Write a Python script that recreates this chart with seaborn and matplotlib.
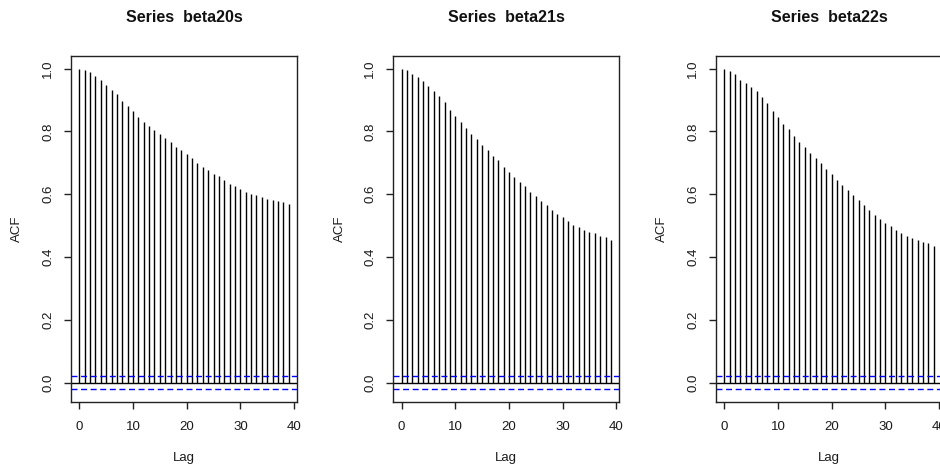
import numpy as np
import pandas as pd
import matplotlib
matplotlib.use("Agg")
import matplotlib.pyplot as plt
import seaborn as sns

# ACF values (lags 0..39)
lags = list(range(40))

acf_beta20s = [1.000, 0.996, 0.988, 0.977, 0.965, 0.949, 0.933, 0.918, 0.897, 0.881,
               0.865, 0.846, 0.831, 0.818, 0.803, 0.791, 0.779, 0.767, 0.751, 0.740,
               0.727, 0.716, 0.700, 0.688, 0.676, 0.665, 0.657, 0.645, 0.632, 0.626,
               0.617, 0.607, 0.600, 0.596, 0.590, 0.585, 0.582, 0.578, 0.574, 0.569]

acf_beta21s = [1.000, 0.996, 0.984, 0.972, 0.960, 0.945, 0.930, 0.913, 0.894, 0.869,
               0.850, 0.831, 0.811, 0.792, 0.775, 0.755, 0.740, 0.723, 0.708, 0.688,
               0.671, 0.655, 0.640, 0.625, 0.608, 0.593, 0.577, 0.564, 0.549, 0.537,
               0.526, 0.513, 0.502, 0.494, 0.485, 0.479, 0.475, 0.466, 0.462, 0.455]

acf_beta22s = [1.000, 0.993, 0.981, 0.965, 0.953, 0.940, 0.929, 0.909, 0.891, 0.865,
               0.847, 0.822, 0.806, 0.786, 0.767, 0.750, 0.731, 0.715, 0.699, 0.681,
               0.664, 0.644, 0.629, 0.614, 0.597, 0.581, 0.564, 0.549, 0.534, 0.522,
               0.508, 0.498, 0.486, 0.477, 0.466, 0.459, 0.454, 0.448, 0.443, 0.434]

series_names = ["beta20s", "beta21s", "beta22s"]
conf_limit = 0.02  # blue dashed bounds

x_ticks = [0, 10, 20, 30, 40]
y_ticks = [0.0, 0.2, 0.4, 0.6, 0.8, 1.0]

df = pd.DataFrame({
    "Lag": lags * 3,
    "ACF": acf_beta20s + acf_beta21s + acf_beta22s,
    "Series": np.repeat(series_names, len(lags)),
})

sns.set_theme(style="ticks")
plt.rcParams["font.family"] = ["Liberation Sans", "DejaVu Sans"]
plt.rcParams["lines.scale_dashes"] = False

fig = plt.figure(figsize=(9.4, 4.68), dpi=100)

W, H = 940, 468
lefts = [71, 393.3, 716]
ax_w, top, bottom = 226, 55.7, 401.7

for left, name in zip(lefts, series_names):
    ax = fig.add_axes([left / W, 1 - bottom / H, ax_w / W, (bottom - top) / H])
    sub = df[df["Series"] == name]

    ax.vlines(sub["Lag"], 0, sub["ACF"], color="black", lw=1.0)
    ax.axhline(0, color="black", lw=1.0)
    for c in (conf_limit, -conf_limit):
        ax.axhline(c, color="blue", lw=1.0, linestyle=(0, (4.3, 2.6)))

    ax.set_xlim(-1.56, 40.56)
    ax.set_ylim(-0.0608, 1.0408)
    ax.set_xticks(x_ticks)
    ax.set_yticks(y_ticks)
    ax.set_yticklabels([f"{v:.1f}" for v in y_ticks], rotation=90, va="center")

    for s in ax.spines.values():
        s.set_visible(True)
        s.set_color("#222222")
        s.set_linewidth(1.0)

    ax.tick_params(axis="both", direction="out", length=5.2, width=1.0,
                   color="#222222", labelsize=9.5, labelcolor="#1a1a1a")
    ax.tick_params(axis="x", pad=8.5)
    ax.tick_params(axis="y", pad=7)

    ax.text(0.5, 1.109, f"Series  {name}", transform=ax.transAxes,
            ha="center", va="center", fontsize=11.5, fontweight="bold", color="#111111")
    ax.text(0.5, -0.163, "Lag", transform=ax.transAxes,
            ha="center", va="center", fontsize=9.5, color="#1a1a1a")
    ax.text(-0.237, 0.5, "ACF", transform=ax.transAxes, rotation=90,
            ha="center", va="center", fontsize=9.5, color="#1a1a1a")

fig.savefig("out.png", dpi=100, facecolor="white")
